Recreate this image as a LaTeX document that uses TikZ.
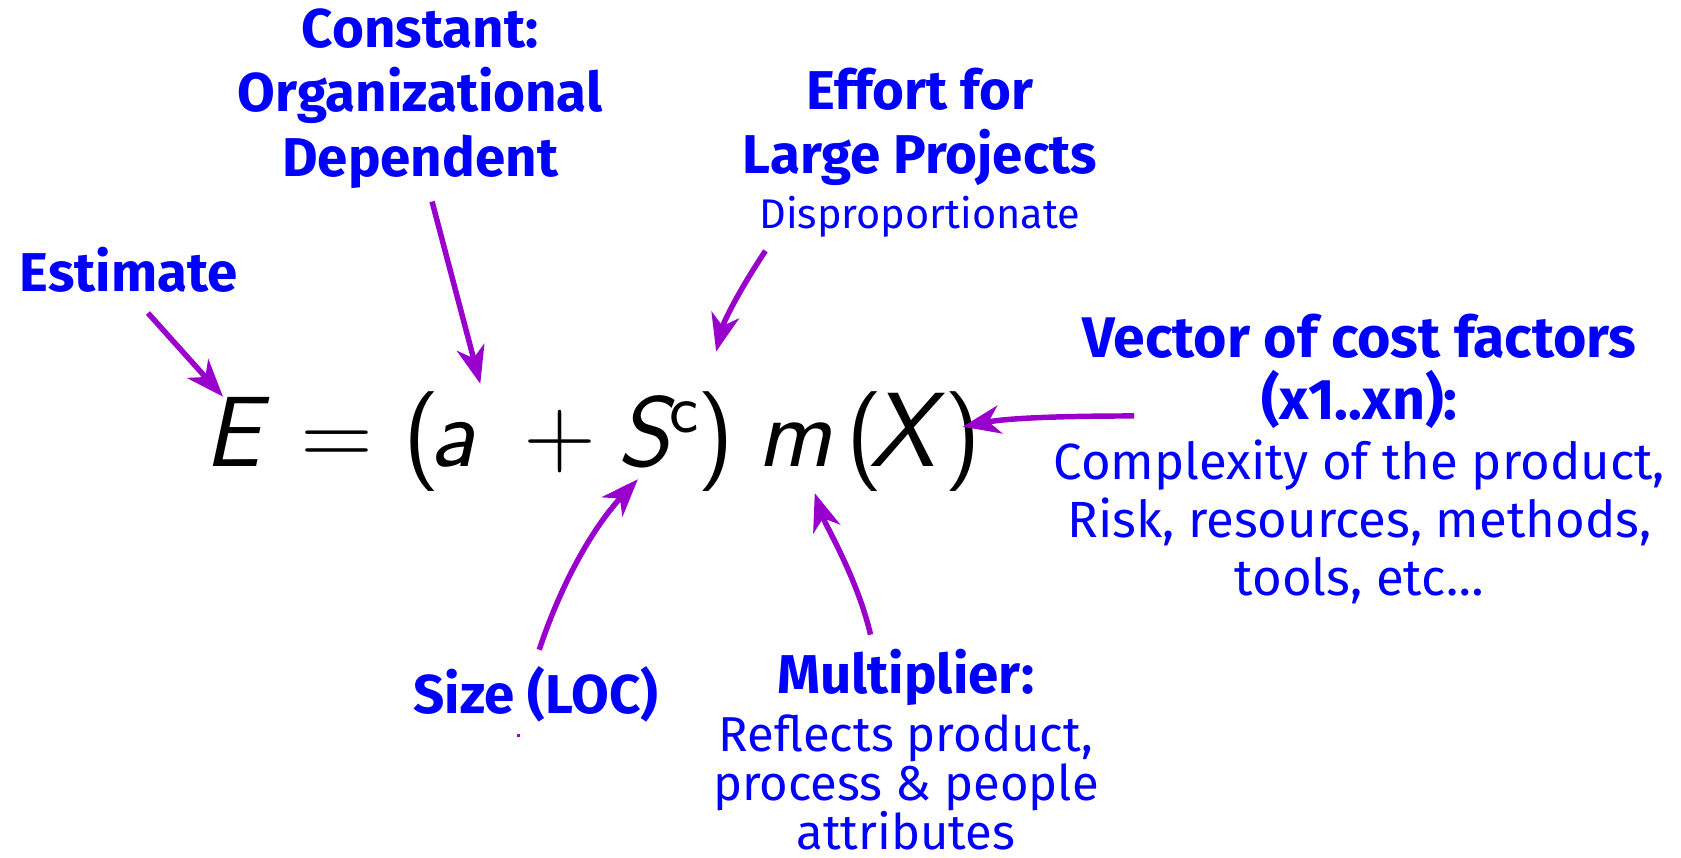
\documentclass[tikz,border=0pt]{standalone}
\usepackage{fontspec}
\newfontfamily\labfont{Fira Sans}
\usetikzlibrary{arrows.meta,calc}
\definecolor{lblue}{RGB}{0,0,255}
\definecolor{apurple}{RGB}{153,0,204}
\tikzset{
  big/.style={inner sep=0pt, align=center, text=lblue, font=\labfont\bfseries\fontsize{14.5}{17}\selectfont},
  small/.style={inner sep=0pt, align=center, text=lblue, font=\labfont\fontsize{13.5}{15.4}\selectfont},
  smaller/.style={inner sep=0pt, align=center, text=lblue, font=\labfont\fontsize{13}{13}\selectfont},
  tiny/.style={inner sep=0pt, align=center, text=lblue, font=\labfont\fontsize{11}{13}\selectfont},
  eqn/.style={inner sep=0pt, anchor=base west, font=\sffamily\fontsize{26.5}{30}\selectfont},
  arr/.style={draw=apurple, line width=1.45pt, -{Stealth[length=10pt,width=7.5pt,inset=3pt]}},
}
\begin{document}
\begin{tikzpicture}[x=0.01cm,y=0.01cm]
\useasboundingbox[fill=white] (0,0) rectangle (1568,-800);
% equation, glyph by glyph
\node[eqn] (gE)  at (190,-435) {\itshape E};
\node[eqn] (gEq) at (280,-435) {=};
\node[eqn] (gL1) at (376,-435) {(};
\node[eqn] (ga)  at (400,-435) {\itshape a};
\node[eqn] (gP)  at (488,-435) {+};
\node[eqn] (gS)  at (575,-435) {\itshape S\upshape\textsuperscript{c}};
\node[eqn] (gR1) at (650,-435) {)};
\node[eqn] (gm)  at (706,-435) {\itshape m};
\node[eqn, font=\sffamily\fontsize{26.5}{30}\selectfont] (gL2) at (789,-435) {(};
\node[eqn, font=\sffamily\fontsize{28}{30}\selectfont] (gX)  at (810,-435) {\itshape X};
\node[eqn] (gR2) at (880,-435) {)};
% arrow targets on the equation
\coordinate (tE) at (208,-370);
\coordinate (ta) at (448,-358);
\coordinate (tS) at (668,-328);
\coordinate (tX) at (898,-398);
\coordinate (tSz) at (595,-447);
\coordinate (tm) at (760,-460);
% labels
\node[big] (const) at (392,-92) {Constant:\\Organizational\\Dependent};
\node[big] (est) at (120,-252) {Estimate};
\node[big] (effort) at (858,-118) {Effort for\\Large Projects};
\node[tiny] (disp) at (858,-202) {Disproportionate};
\node[big, font=\labfont\bfseries\fontsize{15.2}{16.5}\selectfont] (vec) at (1268,-346) {Vector of cost factors\\(x1..xn):};
\node[small] (vecd) at (1268,-487) {Complexity of the product,\\Risk, resources, methods,\\tools, etc\dots};
\node[big] (size) at (500,-648) {Size (LOC)};
\node[big] (mult) at (845,-632) {Multiplier:};
\node[smaller] (multd) at (845,-730) {Reflects product,\\process \& people\\attributes};
% connectors
\draw[arr] ($(est)+(18,-40)$) -- (tE);
\draw[arr] ($(const)+(11,-96)$) -- (ta);
\draw[arr] ($(disp)+(-144,-32)$) .. controls +(-24,-36) and +(7,28) .. (tS);
\draw[arr] ($(vec)+(-210,-42)$) .. controls +(-68,0) and +(42,8) .. (tX);
\draw[arr] ($(size)+(3,42)$) .. controls +(22,66) and +(-40,-43) .. (tSz);
\draw[arr] ($(mult)+(-33,40)$) .. controls +(-12,52) and +(10,-30) .. (tm);
\fill[apurple] (482.5,-684.5) rectangle (485.5,-687.5);
\end{tikzpicture}
\end{document}
